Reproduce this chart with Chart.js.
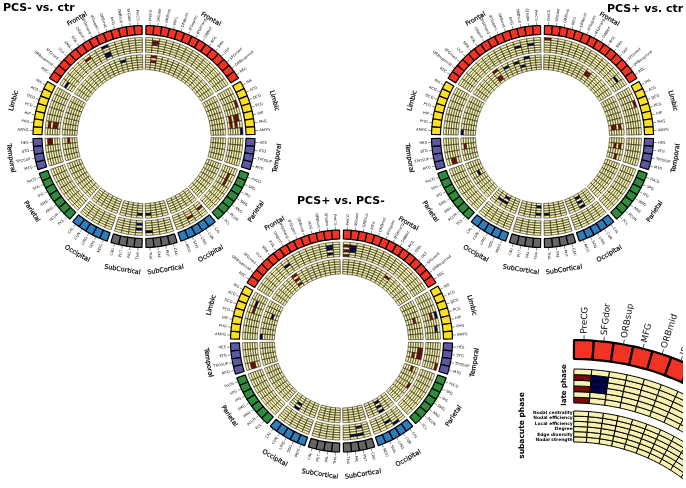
<!DOCTYPE html>
<html><head><meta charset="utf-8">
<style>
html,body{margin:0;padding:0;background:#fff;overflow:hidden;width:686px;height:488px}
.wrap{position:absolute;left:0;top:0;width:686px;height:488px;overflow:hidden}
canvas{position:absolute;left:0;top:0}
</style>
<script src="https://cdn.jsdelivr.net/npm/chart.js@4"></script>
</head><body>
<div class="wrap"><canvas id="c1" width="686" height="488"></canvas>
<canvas id="c2" width="686" height="488"></canvas>
<canvas id="c3" width="686" height="488"></canvas></div>
<div class="wrap" style="width:683px"><canvas id="c4" width="1146" height="1250"></canvas></div>
<script>
// categories
const groupNames = ['Frontal','Limbic','Temporal','Parietal','Occipital','SubCortical'];
const frontal = ['PreCG','SFGdor','ORBsup','MFG','ORBmid','IFGoperc','IFGtriang','ORBinf','ROL','SMA','OLF','SFGmed','ORBsupmed','REC'];
const limbic = ['INS','ACG','DCG','PCG','HIP','PHG','AMYG'];
const temporal = ['HES','STG','TPOSUP','MTG'];
const parietal = ['PoCG','SPG','IPG','SMG','ANG','PCUN','PCL'];
const occipital = ['CAL','CUN','LING','SOG','MOG'];
const subcortical = ['CAU','PUT','PAL','THA'];
const groups = [frontal,limbic,temporal,parietal,occipital,subcortical];
const groupColors = ['#f03322','#fde022','#5c58a2','#2f8c3c','#2f7dbb','#666666'];
const rowNames = ['Nodal centrality','Nodal efficiency','Local efficiency','Degree','Edge diversity','Nodal strength'];

// significant cells: [hemisphere, region index, row, sign]
const minusCtrLate = [['L',5,0,-1],['L',5,3,-1],['L',5,4,-1],['L',8,1,1],['L',13,2,-1],['L',19,1,1],['L',19,3,1],['L',19,4,1],['L',21,1,1],['L',21,2,1],['L',40,2,-1],['L',40,4,-1],
  ['R',1,1,1],['R',1,2,1],['R',16,0,1],['R',18,1,1],['R',18,2,1],['R',18,4,1],['R',19,2,1],['R',19,4,1],['R',20,0,-1],['R',26,2,1],['R',27,2,1],['R',32,3,1],['R',34,2,1],['R',40,1,-1]];
const minusCtrSub = [['L',3,1,-1],['L',21,2,1],['L',40,1,-1],['R',1,0,1],['R',1,2,1],['R',40,1,-1]];
const plusCtrLate = [['L',1,2,-1],['L',3,2,-1],['L',24,2,1],['L',24,3,1],['R',0,0,1],['R',12,2,-1],['R',16,0,1]];
const plusCtrSub = [['L',2,0,-1],['L',3,3,-1],['L',4,1,-1],['L',6,1,-1],['L',8,0,1],['L',8,3,1],['L',8,4,1],['L',20,0,-1],['L',22,1,1],['L',27,3,-1],['L',33,2,-1],['L',34,2,-1],['L',34,4,-1],['L',40,1,-1],['L',40,4,-1],
  ['R',8,1,1],['R',8,2,1],['R',19,1,1],['R',19,3,1],['R',19,4,1],['R',22,1,1],['R',22,3,1],['R',24,2,1],['R',34,0,-1],['R',34,2,-1],['R',34,4,-1],['R',40,1,-1]];
const plusMinusLate = [['L',1,1,-1],['L',1,2,-1],['L',1,4,-1],['L',8,2,-1],['L',15,2,-1],['L',16,2,1],['L',24,2,1],['L',24,3,1],
  ['R',0,1,1],['R',0,3,1],['R',0,5,1],['R',1,1,-1],['R',1,2,-1],['R',1,3,-1],['R',17,2,1],['R',17,0,-1],['R',19,1,-1],['R',24,0,1],['R',33,0,-1],['R',34,2,-1],['R',38,1,-1],['R',39,1,-1],['R',38,4,-1]];
const plusMinusSub = [['L',8,0,1],['L',8,2,1],['L',8,4,1],['L',16,3,-1],['L',20,0,-1],['L',33,0,-1],['L',33,2,-1],
  ['R',8,1,1],['R',17,2,1],['R',22,0,1],['R',22,1,1],['R',23,0,1],['R',23,1,1],['R',23,3,1],['R',25,2,1],['R',28,0,1],['R',34,0,-1],['R',34,2,-1],['R',34,4,-1]];
const insetLate = [['R',0,1,1],['R',0,3,1],['R',0,5,1],['R',1,1,-1],['R',1,2,-1],['R',1,3,-1]];
const insetSub = [];

const CELL_BG = '#f6f1b0', POS = '#7a0a0a', NEG = '#00004f', CLEAR = 'rgba(0,0,0,0)';
const GAP = 0.5;

function layoutFull(){
  const s = [];
  const half = ()=>s.push({size:GAP/2});
  const side = (h,rev)=>{
    let list=[];
    let idx=0;
    groups.forEach((g,gi)=>{
      const part=[];
      g.forEach(n=>{part.push({size:1,h,i:idx,g:gi,name:n});idx++;});
      list.push(part);
    });
    if(rev) list=list.reverse().map(p=>p.reverse());
    list.forEach((p,k)=>{ if(k) s.push({size:GAP}); s.push(...p); });
  };
  half(); side('R',false); half(); half(); side('L',true); half();
  return s;
}
function layoutInset(){
  const s=[{size:0.2}];
  let idx=0;
  frontal.slice(0,10).forEach(n=>{s.push({size:4,h:'R',i:idx++,g:0,name:n});});
  s.push({size:360-0.2-40});
  return s;
}
function spacer(w){return {data:[1],backgroundColor:[CLEAR],borderColor:[CLEAR],borderWidth:0,weight:w};}
function blockRing(cells,w,bw){
  return {data:cells.map(c=>c.size),weight:w,borderWidth:bw,
    backgroundColor:cells.map(c=>c.name?groupColors[c.g]:CLEAR),
    borderColor:cells.map(c=>c.name?'#000000':CLEAR)};
}
function rowRing(cells,marks,row,w,bw,line){
  const bg=cells.map(c=>{
    if(!c.name) return CLEAR;
    const m=marks.find(x=>x[0]===c.h&&x[1]===c.i&&x[2]===row);
    return m?(m[3]>0?POS:NEG):CELL_BG;
  });
  return {data:cells.map(c=>c.size),weight:w,borderWidth:bw,backgroundColor:bg,
    borderColor:cells.map(c=>c.name?line:CLEAR)};
}
function rows(cells,marks,w,bw,line){return [0,1,2,3,4,5].map(r=>rowRing(cells,marks,r,w,bw,line));}

function labelPlugin(cells,opt){
  return {id:'lbl'+opt.id,afterDraw(chart){
    const ctx=chart.ctx, arc0=chart.getDatasetMeta(0).data;
    const cx=arc0[0].x, cy=arc0[0].y, R=arc0[0].outerRadius;
    ctx.save();
    const byGroup={};
    cells.forEach((c,k)=>{
      if(!c.name) return;
      const a=(arc0[k].startAngle+arc0[k].endAngle)/2;
      const key=c.h+c.g; (byGroup[key]=byGroup[key]||{h:c.h,g:c.g,as:[]}).as.push(a);
      const dx=Math.cos(a), dy=Math.sin(a);
      ctx.strokeStyle='#222';ctx.lineWidth=opt.tickW;
      ctx.beginPath();ctx.moveTo(cx+dx*R,cy+dy*R);ctx.lineTo(cx+dx*(R+opt.tick),cy+dy*(R+opt.tick));ctx.stroke();
      ctx.save();
      ctx.translate(cx+dx*(R+opt.tick+opt.pad),cy+dy*(R+opt.tick+opt.pad));
      ctx.font=opt.labelFont;ctx.fillStyle='#111';ctx.textBaseline='middle';
      if(dx>=0){ctx.rotate(a);ctx.textAlign='left';}else{ctx.rotate(a+Math.PI);ctx.textAlign='right';}
      ctx.fillText(c.name,0,0);
      ctx.restore();
    });
    if(opt.groupR){
      Object.values(byGroup).forEach(G=>{
        const a=G.as.reduce((p,q)=>p+q,0)/G.as.length;
        const dx=Math.cos(a),dy=Math.sin(a);
        ctx.save();
        ctx.translate(cx+dx*opt.groupR,cy+dy*opt.groupR);
        let t=a+Math.PI/2;
        if(dy>0) t+=Math.PI;
        ctx.rotate(t);
        ctx.font=opt.groupFont;ctx.fillStyle='#000';ctx.textAlign='center';ctx.textBaseline='middle';
        ctx.strokeStyle='#000';ctx.lineWidth=0.2;
        ctx.strokeText(groupNames[G.g],0,0);
        ctx.fillText(groupNames[G.g],0,0);
        ctx.restore();
      });
    }
    (opt.texts||[]).forEach(t=>{
      ctx.save();ctx.translate(t.x,t.y);if(t.rot)ctx.rotate(t.rot);
      ctx.font=t.font;ctx.fillStyle='#000';ctx.textAlign=t.align||'left';ctx.textBaseline='middle';
      ctx.fillText(t.s,0,0);ctx.restore();
    });
    ctx.restore();
  }};
}
function makeChart(id,cells,datasets,radius,cutPct,cx,cy,W,H,opt){
  new Chart(document.getElementById(id),{
    type:'doughnut',
    data:{labels:cells.map(c=>c.name||''),datasets},
    options:{responsive:false,animation:false,events:[],radius:radius,cutout:cutPct+'%',
      layout:{padding:{left:Math.max(0,2*cx-W),right:Math.max(0,W-2*cx),top:Math.max(0,2*cy-H),bottom:Math.max(0,H-2*cy)}},
      plugins:{legend:{display:false},tooltip:{enabled:false},title:{display:false}}},
    plugins:[labelPlugin(cells,opt)]
  });
}
const FONT='"DejaVu Sans"';
function circos(id,cx,cy,late,sub,title){
  const cells=layoutFull();
  const ds=[blockRing(cells,9,1.2),spacer(3),...rows(cells,late,2.45,0.6,'#1c1c08'),spacer(2.6),...rows(cells,sub,2.45,0.6,'#1c1c08')];
  makeChart(id,cells,ds,111,67/111*100,cx,cy,686,488,{id,tick:3.5,tickW:0.5,pad:1.2,labelFont:'3.7px '+FONT,groupR:135,groupFont:'6.4px '+FONT,texts:[title]});
}
const titleFont='bold 11px '+FONT;
circos('c1',144,136.5,minusCtrLate,minusCtrSub,{s:'PCS- vs. ctr',x:3,y:8.5,font:titleFont});
circos('c2',542.5,136.5,plusCtrLate,plusCtrSub,{s:'PCS+ vs. ctr',x:607,y:9.5,font:titleFont});
circos('c3',341.5,341,plusMinusLate,plusMinusSub,{s:'PCS+ vs. PCS-',x:297,y:201,font:titleFont});
(function(){
  const cells=layoutInset();
  const ds=[blockRing(cells,19,2.2),spacer(10),...rows(cells,insetLate,34/6,1,'#000'),spacer(8),...rows(cells,insetSub,31/6,1,'#000')];
  const texts=[
    {s:'late phase',x:564,y:385,rot:-Math.PI/2,font:'bold 7px '+FONT,align:'center'},
    {s:'subacute phase',x:522,y:425.5,rot:-Math.PI/2,font:'bold 7.5px '+FONT,align:'center'}
  ];
  rowNames.forEach((n,k)=>texts.push({s:n,x:572.7,y:413+k*5.35,font:'bold 4.4px '+FONT,align:'right'}));
  makeChart('c4',cells,ds,285,183/285*100,573,625,1146,1250,{id:'c4',tick:5,tickW:0.8,pad:1.5,labelFont:'8.8px '+FONT,groupR:0,texts});
})();
</script>
</body></html>
